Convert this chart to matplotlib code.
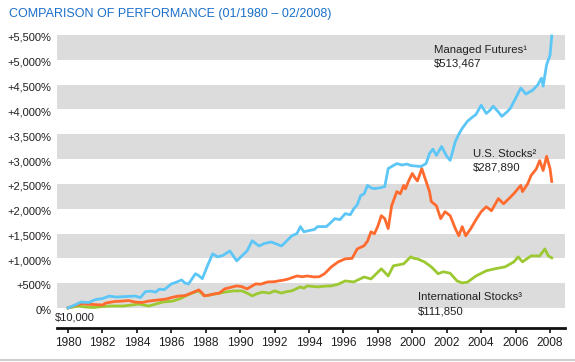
import matplotlib
matplotlib.use("Agg")
import matplotlib.pyplot as plt
import matplotlib.transforms as mtransforms
from matplotlib.lines import Line2D

plt.rcParams['font.family'] = ['Liberation Sans', 'DejaVu Sans']

# ---- data (percent gain over $10,000 starting value) ----
mf_t = [1980.0, 1980.4, 1980.75, 1981.2, 1981.6, 1982.0, 1982.4, 1982.8, 1983.3, 1983.9,
        1984.2, 1984.5, 1984.8, 1985.1, 1985.3, 1985.6, 1986.0, 1986.3, 1986.6, 1986.8,
        1987.0, 1987.4, 1987.6, 1987.8, 1988.1, 1988.4, 1988.7, 1989.0, 1989.4, 1989.8,
        1990.1, 1990.4, 1990.7, 1990.9, 1991.1, 1991.4, 1991.8, 1992.1, 1992.4, 1992.7,
        1993.0, 1993.3, 1993.5, 1993.7, 1994.0, 1994.3, 1994.5, 1995.0, 1995.2, 1995.5,
        1995.8, 1996.1, 1996.4, 1996.6, 1996.8, 1997.0, 1997.2, 1997.4, 1997.6, 1997.8,
        1998.1, 1998.4, 1998.6, 1998.8, 1999.1, 1999.4, 1999.7, 1999.9, 2000.2, 2000.5,
        2000.8, 2001.0, 2001.2, 2001.4, 2001.7, 2002.0, 2002.2, 2002.5, 2002.7, 2002.9,
        2003.2, 2003.4, 2003.7, 2004.0, 2004.3, 2004.5, 2004.7, 2005.0, 2005.2, 2005.5,
        2005.7, 2006.0, 2006.3, 2006.6, 2007.0, 2007.3, 2007.5, 2007.6, 2007.8, 2008.0,
        2008.1]
mf_v = [0, 60, 120, 110, 170, 190, 240, 220, 230, 240,
        210, 330, 340, 320, 380, 370, 485, 520, 565, 500,
        485, 690, 650, 590, 850, 1090, 1030, 1060, 1150, 950,
        1050, 1150, 1355, 1300, 1250, 1300, 1330, 1290, 1250, 1350,
        1455, 1500, 1640, 1535, 1560, 1580, 1640, 1640, 1700, 1800,
        1780, 1900, 1880, 2000, 2080, 2265, 2300, 2470, 2420, 2405,
        2420, 2445, 2810, 2850, 2910, 2880, 2900, 2870, 2860, 2850,
        2910, 3115, 3200, 3075, 3255, 3055, 2975, 3355, 3500, 3620,
        3760, 3820, 3900, 4085, 3920, 3980, 4065, 3950, 3860, 3950,
        4025, 4225, 4430, 4310, 4390, 4500, 4630, 4470, 4900, 5090,
        5480]

us_t = [1980.0, 1980.3, 1980.5, 1980.8, 1981.0, 1981.5, 1982.0, 1982.2, 1982.7, 1983.2,
        1983.5, 1983.9, 1984.3, 1984.7, 1985.2, 1985.7, 1986.0, 1986.4, 1986.8, 1987.3,
        1987.6, 1987.8, 1987.9, 1988.2, 1988.5, 1988.8, 1989.1, 1989.5, 1989.8, 1990.1,
        1990.4, 1990.9, 1991.2, 1991.6, 1992.0, 1992.2, 1992.5, 1992.8, 1993.0, 1993.3,
        1993.6, 1993.9, 1994.3, 1994.6, 1994.9, 1995.3, 1995.7, 1996.1, 1996.5, 1996.8,
        1997.2, 1997.4, 1997.6, 1997.8, 1998.0, 1998.2, 1998.4, 1998.6, 1998.8, 1999.1,
        1999.3, 1999.5, 1999.6, 1999.8, 2000.0, 2000.2, 2000.3, 2000.55, 2000.8, 2001.0,
        2001.1, 2001.4, 2001.65, 2001.9, 2002.2, 2002.5, 2002.7, 2002.9, 2003.1, 2003.4,
        2003.7, 2004.0, 2004.3, 2004.6, 2005.0, 2005.3, 2005.6, 2005.9, 2006.3, 2006.4,
        2006.7, 2006.9, 2007.2, 2007.4, 2007.6, 2007.8, 2008.0, 2008.1]
us_v = [0, 40, 60, 90, 80, 70, 60, 100, 130, 140,
        150, 120, 110, 140, 160, 180, 210, 240, 250, 320,
        365, 300, 245, 260, 285, 300, 385, 420, 445, 430,
        385, 485, 480, 525, 530, 545, 560, 585, 610, 645,
        630, 645, 625, 630, 690, 830, 930, 990, 1000, 1190,
        1255, 1350, 1535, 1495, 1650, 1860, 1800, 1600, 2060, 2345,
        2300, 2470, 2400, 2570, 2710, 2600, 2560, 2810, 2550, 2345,
        2145, 2060, 1800, 1940, 1860, 1600, 1455, 1640, 1455, 1600,
        1780, 1940, 2040, 1960, 2205, 2100, 2200, 2305, 2470, 2345,
        2500, 2670, 2800, 2970, 2770, 3055, 2810, 2550]

intl_t = [1980.0, 1980.3, 1980.6, 1981.0, 1981.5, 1982.0, 1982.5, 1983.2, 1983.7, 1984.1,
          1984.7, 1985.1, 1985.5, 1986.1, 1986.6, 1986.8, 1987.2, 1987.6, 1987.8, 1988.0,
          1988.5, 1989.1, 1989.6, 1990.1, 1990.4, 1990.7, 1991.0, 1991.3, 1991.7, 1992.0,
          1992.4, 1992.7, 1993.0, 1993.5, 1993.7, 1993.9, 1994.5, 1994.9, 1995.3, 1995.7,
          1996.1, 1996.6, 1997.2, 1997.6, 1998.2, 1998.6, 1998.9, 1999.5, 1999.9, 2000.1,
          2000.3, 2000.7, 2001.1, 2001.5, 2001.8, 2002.2, 2002.6, 2002.9, 2003.2, 2003.7,
          2004.3, 2004.8, 2005.4, 2005.9, 2006.15, 2006.4, 2006.9, 2007.4, 2007.7, 2007.9,
          2008.1]
intl_v = [0, 20, 40, 20, 10, 30, 40, 40, 60, 80,
          40, 80, 120, 140, 200, 240, 300, 345, 280, 245,
          280, 320, 345, 345, 300, 245, 290, 320, 300, 345,
          300, 330, 345, 425, 400, 445, 425, 440, 445, 480,
          545, 525, 625, 585, 790, 645, 850, 890, 1030, 1000,
          990, 930, 830, 690, 730, 700, 545, 505, 520, 645,
          750, 790, 830, 930, 1030, 930, 1050, 1050, 1190, 1050,
          1010]

year_ticks = list(range(1980, 2009, 2))
pct_ticks = list(range(0, 5501, 500))
pct_labels = ['0%'] + ['+{:,}%'.format(v) for v in pct_ticks[1:]]

title = 'COMPARISON OF PERFORMANCE (01/1980 \u2013 02/2008)'
series_labels = [('Managed Futures\u00b9', '$513,467'),
                 ('U.S. Stocks\u00b2', '$287,890'),
                 ('International Stocks\u00b3', '$111,850')]

# ---- figure ----
W, H = 575, 362
fig = plt.figure(figsize=(W / 100, H / 100), dpi=100)
ax = fig.add_axes([57 / W, (H - 328) / H, (565 - 57) / W, (328 - 30) / H])

ax.set_xlim(1979.36, 2008.87)
y_per_px = 5500 / (308 - 35)
ax.set_ylim(-(328 - 308) * y_per_px, 5500 + 5 * y_per_px)

band = '#dcdcdc'
for lo in range(0, 5500, 1000):
    ax.axhspan(lo, lo + 500, color=band, lw=0, zorder=0)

c_mf, c_us, c_in = '#5cc6f7', '#ff6a2e', '#9cc832'
ax.plot(intl_t, intl_v, color=c_in, lw=2.0, solid_joinstyle='round', zorder=3)
ax.plot(us_t, us_v, color=c_us, lw=2.0, solid_joinstyle='round', zorder=4)
ax.plot(mf_t, mf_v, color=c_mf, lw=2.0, solid_joinstyle='round', zorder=5)

for s in ['top', 'right', 'left']:
    ax.spines[s].set_visible(False)
ax.spines['bottom'].set_linewidth(2.0)
ax.spines['bottom'].set_color('#111111')

txt = '#231f20'
ax.set_xticks(year_ticks)
ax.set_xticklabels([str(y) for y in year_ticks], fontsize=8.6, color=txt)
ax.tick_params(axis='x', direction='out', length=3.8, width=1.2, color='#111111', pad=3)
ax.set_yticks(pct_ticks)
ax.set_yticklabels(pct_labels, fontsize=8, color=txt)
ax.tick_params(axis='y', length=0, pad=4)
off = mtransforms.ScaledTranslation(0, -2 / 100, fig.dpi_scale_trans)
for lab in ax.get_yticklabels():
    lab.set_transform(lab.get_transform() + off)

# annotations
def px(x, y):
    return x / W, (H - y) / H

fig.text(*px(9, 14), title, fontsize=9, color='#1b6fc8', ha='left', va='center')
fig.text(*px(55, 318), '$10,000', fontsize=8, color=txt, ha='left', va='center')
pos = [(434, 50, 64), (473, 154, 168), (418, 297, 311)]
for (name, val), (x, y1, y2) in zip(series_labels, pos):
    fig.text(*px(x, y1), name, fontsize=8.2, color=txt, ha='left', va='center')
    fig.text(*px(x, y2), val, fontsize=8.2, color=txt, ha='left', va='center')

fig.add_artist(Line2D([0, 1], [(H - 360) / H] * 2, transform=fig.transFigure,
                      color='#cfcfcf', lw=1.5))

fig.savefig('out.png', dpi=100)
